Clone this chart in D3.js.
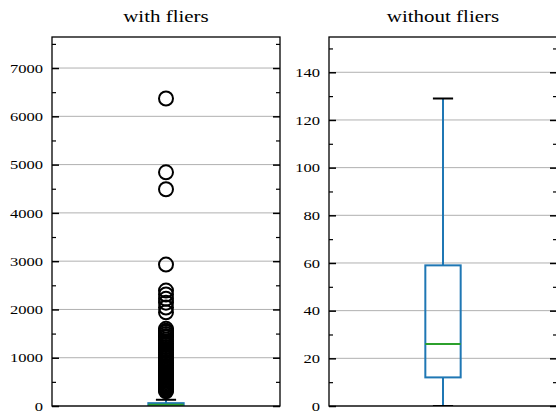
<!DOCTYPE html>
<html>
<head>
<meta charset="utf-8">
<script src="https://cdn.jsdelivr.net/npm/d3@7"></script>
<style>
  html, body { margin: 0; padding: 0; background: #fff; }
  svg { display: block; }
  text { font-family: "Liberation Serif", "DejaVu Serif", serif; fill: #000; }
</style>
</head>
<body>
<svg id="chart" width="556" height="414"></svg>
<script>
// ---- data ----
const panelTitles = ["with fliers", "without fliers"];
const boxStats = { whiskerLow: 0, q1: 12, median: 26, q3: 59, whiskerHigh: 129 };
const fliers = [6369, 4840, 4490, 2930, 2390, 2310, 2220, 2140, 2040, 1940,
  1598, 1561, 1532, 1489, 1452, 1418, 1377, 1340, 1296, 1262, 1219, 1183,
  1147, 1102, 1068, 1031, 987, 954, 912, 879, 836, 801, 764, 729, 698, 661,
  634, 602, 577, 548, 519, 493, 466, 441, 418, 392, 371, 349, 328, 305];
const leftTicks = [0, 1000, 2000, 3000, 4000, 5000, 6000, 7000];
const leftMinor = [500, 1500, 2500, 3500, 4500, 5500, 6500, 7500];
const rightTicks = [0, 20, 40, 60, 80, 100, 120, 140];
const rightMinor = [10, 30, 50, 70, 90, 110, 130, 150];

// ---- layout ----
const svg = d3.select("#chart");
const plotTop = 37, plotBottom = 406;
const panels = [
  { x0: 52, x1: 280, title: panelTitles[0], showFliers: true,
    ymax: d3.max(fliers) * 1.2, ticks: leftTicks, minor: leftMinor },
  { x0: 329, x1: 557, title: panelTitles[1], showFliers: false,
    ymax: boxStats.whiskerHigh * 1.2, ticks: rightTicks, minor: rightMinor }
];

const blue = "#1f77b4", green = "#2ca02c", gridCol = "#b0b0b0";
const widen = 1.27; // glyphs in the reference are wider than the fallback serif

function stretch(sel) {
  sel.each(function () {
    const len = this.getComputedTextLength();
    d3.select(this).attr("textLength", len * widen).attr("lengthAdjust", "spacingAndGlyphs");
  });
}

panels.forEach((p, i) => {
  const g = svg.append("g");
  const y = d3.scaleLinear().domain([0, p.ymax]).range([plotBottom, plotTop]);
  const x = d3.scaleLinear().domain([0.5, 1.5]).range([p.x0, p.x1]);

  const clipId = "clip" + i;
  svg.append("clipPath").attr("id", clipId).append("rect")
    .attr("x", p.x0).attr("y", plotTop).attr("width", p.x1 - p.x0).attr("height", plotBottom - plotTop);

  // grid
  g.selectAll(".grid").data(p.ticks).join("line")
    .attr("x1", p.x0).attr("x2", p.x1)
    .attr("y1", d => y(d)).attr("y2", d => y(d))
    .attr("stroke", gridCol).attr("stroke-width", 1);

  const plot = g.append("g").attr("clip-path", `url(#${clipId})`);
  const cx = x(1);
  const boxHalf = (x(1.5) - x(0.5)) * 0.0775;
  const capHalf = boxHalf / 1.75;

  // whiskers
  plot.append("line").attr("x1", cx).attr("x2", cx)
    .attr("y1", y(boxStats.q3)).attr("y2", y(boxStats.whiskerHigh))
    .attr("stroke", blue).attr("stroke-width", 2);
  plot.append("line").attr("x1", cx).attr("x2", cx)
    .attr("y1", y(boxStats.q1)).attr("y2", y(boxStats.whiskerLow))
    .attr("stroke", blue).attr("stroke-width", 2);
  // caps
  [boxStats.whiskerHigh, boxStats.whiskerLow].forEach(v => {
    plot.append("line").attr("x1", cx - capHalf).attr("x2", cx + capHalf)
      .attr("y1", y(v)).attr("y2", y(v))
      .attr("stroke", "#000").attr("stroke-width", 2);
  });
  // box
  plot.append("rect")
    .attr("x", cx - boxHalf).attr("width", boxHalf * 2)
    .attr("y", y(boxStats.q3)).attr("height", y(boxStats.q1) - y(boxStats.q3))
    .attr("fill", "none").attr("stroke", blue).attr("stroke-width", 2);
  // median
  plot.append("line").attr("x1", cx - boxHalf).attr("x2", cx + boxHalf)
    .attr("y1", y(boxStats.median)).attr("y2", y(boxStats.median))
    .attr("stroke", green).attr("stroke-width", 2);
  // fliers
  if (p.showFliers) {
    plot.selectAll(".flier").data(fliers).join("circle")
      .attr("cx", cx).attr("cy", d => y(d)).attr("r", 7)
      .attr("fill", "none").attr("stroke", "#000").attr("stroke-width", 2);
  }

  // axis ticks (inward, both sides)
  const axL = g.append("g").attr("transform", `translate(${p.x0},0)`)
    .call(d3.axisLeft(y).tickValues(p.ticks).tickSize(-7).tickPadding(9).tickFormat(d3.format("d")));
  axL.select(".domain").remove();
  axL.selectAll("text").attr("font-size", "13px")
    .attr("font-family", "Liberation Serif, DejaVu Serif, serif").attr("fill", "#222");
  stretch(axL.selectAll("text"));
  axL.selectAll("line").attr("stroke", "#000").attr("stroke-width", 1.5);

  const axR = g.append("g").attr("transform", `translate(${p.x1},0)`)
    .call(d3.axisRight(y).tickValues(p.ticks).tickSize(-7).tickFormat(""));
  axR.select(".domain").remove();
  axR.selectAll("line").attr("stroke", "#000").attr("stroke-width", 1.5);

  const mL = g.append("g").attr("transform", `translate(${p.x0},0)`)
    .call(d3.axisLeft(y).tickValues(p.minor.filter(v => v < p.ymax)).tickSize(-4).tickFormat(""));
  mL.select(".domain").remove();
  mL.selectAll("line").attr("stroke", "#000").attr("stroke-width", 1.2);
  const mR = g.append("g").attr("transform", `translate(${p.x1},0)`)
    .call(d3.axisRight(y).tickValues(p.minor.filter(v => v < p.ymax)).tickSize(-4).tickFormat(""));
  mR.select(".domain").remove();
  mR.selectAll("line").attr("stroke", "#000").attr("stroke-width", 1.2);

  // frame
  g.append("rect").attr("x", p.x0).attr("y", plotTop)
    .attr("width", p.x1 - p.x0).attr("height", plotBottom - plotTop)
    .attr("fill", "none").attr("stroke", "#000").attr("stroke-width", 1.3);

  // title
  const t = g.append("text").attr("x", (p.x0 + p.x1) / 2).attr("y", 21.5)
    .attr("text-anchor", "middle").attr("font-size", "16.5px").attr("fill", "#222")
    .text(p.title);
  stretch(t);
});
</script>
</body>
</html>
